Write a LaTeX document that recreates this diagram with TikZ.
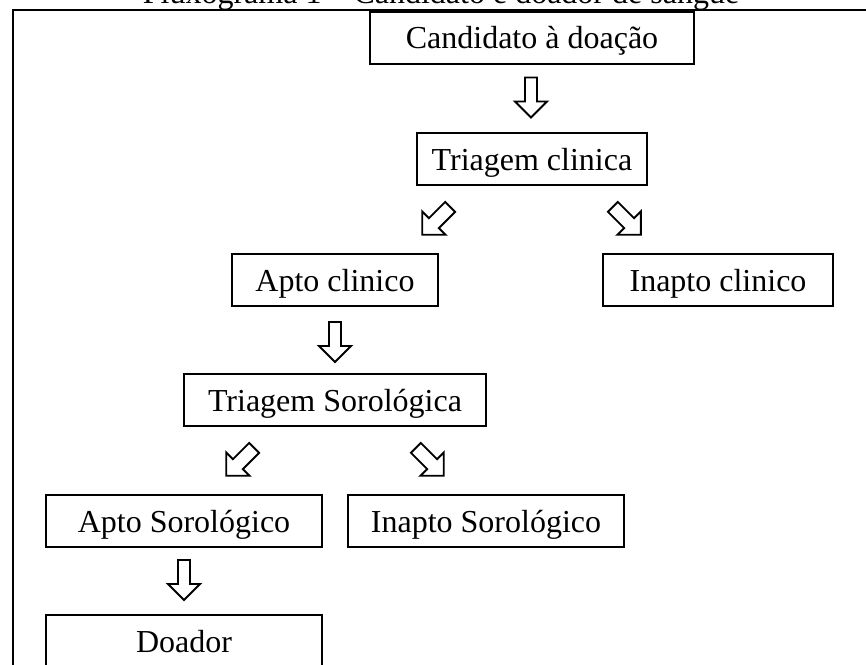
\documentclass[tikz,border=0pt]{standalone}
\usepackage{fontspec}
\setmainfont{Liberation Serif}
\usetikzlibrary{calc}
\begin{document}
\begin{tikzpicture}[x=1pt,y=-1pt,
  box/.style={draw, line width=2pt, rectangle, inner sep=0pt, minimum height=52pt,
    font=\fontsize{32}{38}\selectfont, text height=22pt, text depth=0pt},
  titletext/.style={font=\fontsize{32}{38}\selectfont, inner sep=0pt, anchor=base},
  frameline/.style={draw, line width=2pt},
  barrow/.style={draw, line width=1.9pt, line join=miter, fill=white},
  pics/downarrow/.style={code={\draw[barrow] (-6,-20) -- (-6,4) -- (-16,4) -- (0,20) -- (16,4) -- (6,4) -- (6,-20) -- cycle;}},
  pics/diagarrow/.style={code={\draw[barrow] (-7,-20) -- (-7,3) -- (-16.5,3) -- (0,19.5) -- (16.5,3) -- (7,3) -- (7,-20) -- cycle;}}
]
\useasboundingbox (0,0) rectangle (866,664);
\clip (0,0) rectangle (866,664);

% title (partly cut off at the top, as in the reference)
\node[titletext] (title) at (441,3.5) {Fluxograma 1 – Candidato e doador de sangue};

% outer frame (extends beyond the right and bottom edges)
\draw[frameline] (12.5,700) -- (12.5,10.2) -- (900,10.2);

% boxes
\node[box, minimum width=324pt] (cd) at (532,37.9) {Candidato à doação};
\node[box, minimum width=230pt] (tc) at (532,159) {Triagem clinica};
\node[box, minimum width=206pt] (ac) at (335,280) {Apto clinico};
\node[box, minimum width=230pt] (ic) at (718,280) {Inapto clinico};
\node[box, minimum width=302pt] (ts) at (335,400) {Triagem Sorológica};
\node[box, minimum width=276pt] (as) at (184,521) {Apto Sorológico};
\node[box, minimum width=276pt] (is) at (486,521) {Inapto Sorológico};
\node[box, minimum width=276pt] (dd) at (184,641) {Doador};

% block arrows
\pic at ($(cd.south)!0.5!(tc.north)+(-1,-1)$) {downarrow};
\pic[rotate=-45] at ($(tc.south)+(-96,35)$) {diagarrow};
\pic[rotate=45] at ($(tc.south)+(95,35)$) {diagarrow};
\pic at ($(ac.south)!0.5!(ts.north)+(0,2)$) {downarrow};
\pic[rotate=-45] at ($(ts.south)+(-95,35)$) {diagarrow};
\pic[rotate=45] at ($(ts.south)+(95,35)$) {diagarrow};
\pic at ($(as.south)!0.5!(dd.north)+(0,-1)$) {downarrow};
\end{tikzpicture}
\end{document}
